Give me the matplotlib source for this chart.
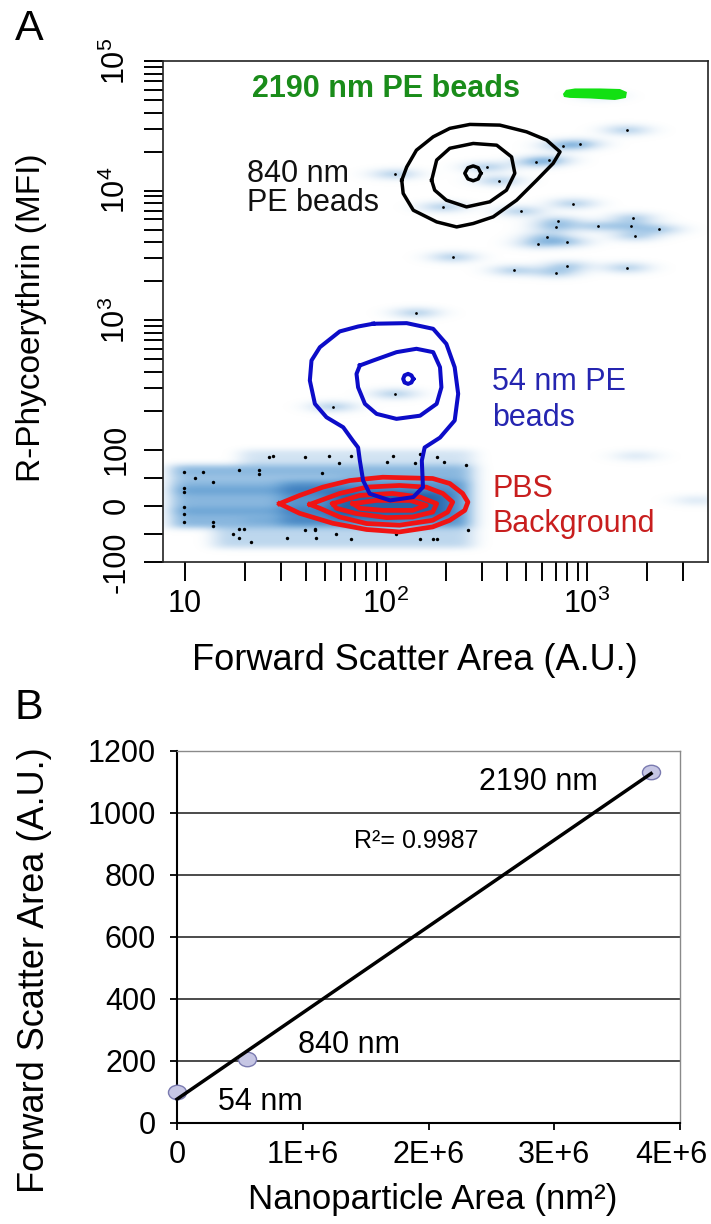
import numpy as np
import matplotlib.pyplot as plt
from matplotlib.colors import LinearSegmentedColormap
from matplotlib.path import Path
from matplotlib.transforms import Affine2D, ScaledTranslation
from matplotlib.ticker import NullFormatter

plt.rcParams['font.family'] = ['Liberation Sans', 'DejaVu Sans']
plt.rcParams['mathtext.fontset'] = 'custom'
plt.rcParams['mathtext.rm'] = 'Liberation Sans'
plt.rcParams['mathtext.it'] = 'Liberation Sans:italic'
plt.rcParams['mathtext.bf'] = 'Liberation Sans:bold'

# ---------------- panel A: FSC-A vs PE ----------------
# contour outlines, (FSC, PE)
black_outer_x = [120, 127, 142, 172, 208, 262, 369, 501, 631, 735, 679, 562, 447, 342, 272, 225, 179, 137, 122]
black_outer_y = [12000, 15200, 20500, 26000, 30200, 32400, 32000, 28400, 24500, 19900, 16200, 12000,
                 8430, 6270, 5570, 5240, 5730, 7050, 9510]
black_mid_x = [169, 179, 208, 272, 356, 422, 438, 398, 329, 252, 200, 175]
black_mid_y = [12000, 17200, 21200, 23100, 22400, 18200, 13600, 10070, 8190, 7480, 8430, 10070]
black_in_x = [297, 288, 272, 256, 247, 256, 272, 288]
black_in_y = [13600, 15000, 15500, 15000, 13600, 12300, 11900, 12300]

blue_outer_x = [86.5, 127, 172, 200, 220, 229, 220, 186, 156, 151, 153, 137, 105, 83.2, 77.1, 74.3,
                72.8, 68.7, 61.4, 50.7, 44.4, 41.9, 42.7, 47.0, 59.0, 72.8]
blue_outer_y = [938, 948, 857, 656, 433, 270, 168, 124, 104, 80.5, 33.3, 15.6, 9.7, 21.6, 45.1, 80.5,
                104, 117, 149, 178, 226, 342, 488, 618, 818, 893]
blue_mid_x = [74.3, 86.5, 113, 142, 172, 186, 189, 179, 148, 113, 90.0, 78.7, 72.8, 71.5]
blue_mid_y = [447, 488, 566, 601, 566, 433, 303, 226, 183, 173, 189, 226, 303, 385]
blue_in_x = [137, 134, 129, 124, 122, 124, 129, 134]
blue_in_y = [352, 375, 385, 375, 352, 330, 322, 330]

red1_x = [29.6, 37.3, 48.6, 66.2, 96.6, 171, 208, 241, 256, 247, 208, 171, 117, 80.2, 54.5, 37.3]
red1_y = [3.9, 18.6, 33.3, 45.1, 51.0, 48.7, 39.8, 22.1, 6.7, -8.0, -25.7, -37.5, -46.4, -42.1, -31.0, -13.3]
red2_x = [41.9, 59.0, 80.2, 117, 159, 192, 215, 203, 171, 117, 80.2, 59.0, 47.0]
red2_y = [2.6, 22.1, 33.3, 36.3, 33.3, 22.1, 6.7, -11.0, -25.7, -34.5, -31.5, -19.8, -4.4]
red3_x = [54.5, 74.3, 108, 148, 179, 171, 136, 101, 71.5, 56.9]
red3_y = [3.9, 18.6, 22.1, 15.6, 3.9, -11.0, -19.8, -20.9, -13.8, -4.4]
red4_x = [68.6, 90.0, 132, 159, 136, 96.6, 74.3]
red4_y = [3.9, 9.7, 9.7, 0.9, -8.0, -8.0, -4.4]

green_x = [760, 787, 872, 1161, 1459, 1581, 1563, 1377, 1035, 822, 769]
green_y = [55700, 59800, 61400, 61400, 60800, 57600, 51900, 50000, 51400, 51900, 52800]

# single events (smeared horizontally in the density plot)
event_x = [1578, 923, 760, 649, 557, 317, 365, 855, 468, 719, 701, 1138, 1687, 1649, 2291, 1734, 631,
           573, 798, 435, 701, 798, 1578, 111, 193, 216, 142, 111, 54.7]
event_y = [29300, 22900, 22200, 17200, 16500, 15200, 11900, 7940, 6930, 5800, 5190, 5310, 6150, 5310,
           5020, 4470, 4390, 3900, 4010, 2420, 2330, 2620, 2540, 13400, 7480, 3070, 1140, 270, 215]
faint_x = [1161, 1754, 3520]
faint_y = [53700, 89, 9.7]

# dense PBS background band: (FSC from, FSC to, PE from, PE to, density)
band_x0 = [8.5, 19, 14, 30, 55, 8.5, 8.5, 8.5, 20]
band_x1 = [270, 270, 270, 250, 200, 70, 70, 60, 120]
band_y0 = [-40, 72, -75, -35, -20, 22, -14, 45, -30]
band_y1 = [72, 100, -40, 45, 25, 33, -3, 55, -22]
band_lev = [0.5, 0.22, 0.3, 0.2, 0.3, 0.12, 0.12, -0.08, 0.08]

# dots inside the background band
dot_x = [9.97, 11.2, 12.4, 13.8, 9.97, 9.97, 9.97, 9.97, 9.97, 13.8, 13.8, 18.7, 23.3, 23.3, 26.2, 27.4,
         39.8, 17.3, 18.6, 19.7, 18.7, 21.4, 32.3, 39.8, 44.7, 45.0, 52.3, 67.5, 58.6, 48.4, 101, 109,
         139, 148, 180, 194, 250, 44.4, 56.4, 67.5, 113, 148, 172, 179, 256]
dot_y = [61.1, 49.9, 61.1, 42.8, 31.5, 24.4, -2.1, -15.1, -28.7, -28.7, -36.3, 64.1, 64.1, 57.0, 87.6,
         89.4, 87.6, -51.0, -40.4, -40.4, -58.1, -64.1, -58.1, -43.4, -43.4, -58.1, 89.4, 89.4, 75.8,
         58.8, 77.5, 89.4, 75.8, 92.4, 87.6, 77.5, 72.9, -42.1, -51.0, -59.8, -51.0, -59.8, -59.8,
         -59.8, -43.4]

# ---------------- panel B ----------------
bead_labels = ['54 nm', '840 nm', '2190 nm']
bead_area = [2.29e3, 5.54e5, 3.77e6]   # nm^2
bead_fsc = [99, 206, 1131]

fig = plt.figure(figsize=(7.11, 12.24), dpi=100)

rect_a = [163 / 711, 1 - 562 / 1224, 545 / 711, 501 / 1224]
ax_bg = fig.add_axes(rect_a, zorder=0)
ax1 = fig.add_axes(rect_a, zorder=1)
ax1.patch.set_alpha(0)
ax1.set_xscale('log')
ax1.set_yscale('symlog', linthresh=100, linscale=0.39)
ax1.set_xlim(7.8, 4000)
ax1.set_ylim(-100, 1e5)

# density image built from the band boxes and the events, in axes fraction
to_frac = ax1.transData + ax1.transAxes.inverted()
W, H = 545, 501
gx = (np.arange(W) + 0.5) / W
gy = (np.arange(H) + 0.5) / H
dens = np.zeros((H, W))
for x0, x1, y0, y1, lev in zip(band_x0, band_x1, band_y0, band_y1, band_lev):
    (fx0, fy0), (fx1, fy1) = to_frac.transform([(x0, y0), (x1, y1)])
    dens += lev * np.outer((gy >= fy0) & (gy <= fy1), (gx >= fx0) & (gx <= fx1))


def kernel(sig):
    t = np.arange(-int(3 * sig), int(3 * sig) + 1)
    k = np.exp(-0.5 * (t / sig) ** 2)
    return k / k.sum()


kx, ky = kernel(9), kernel(3)
dens = np.apply_along_axis(lambda r: np.convolve(r, kx, mode='same'), 1, dens)
dens = np.apply_along_axis(lambda c: np.convolve(c, ky, mode='same'), 0, dens)

for pts, w in ((to_frac.transform(np.column_stack([event_x, event_y])), 0.28),
               (to_frac.transform(np.column_stack([faint_x, faint_y])), 0.14)):
    for fx, fy in pts:
        dens += w * np.exp(-0.5 * ((gx[None, :] - fx) / (17 / W)) ** 2
                           - 0.5 * ((gy[:, None] - fy) / (4 / H)) ** 2)

cmap = LinearSegmentedColormap.from_list(
    'flow', ['#ffffff', '#d6e6f4', '#a4c8e7', '#6ea6d6', '#3f80c0', '#2563a6'])
ax_bg.imshow(np.clip(dens, 0, 1), extent=(0, 1, 0, 1), origin='lower', aspect='auto',
             cmap=cmap, vmin=0, vmax=1, interpolation='bilinear')
ax_bg.set_xlim(0, 1)
ax_bg.set_ylim(0, 1)
ax_bg.axis('off')

ax1.scatter(event_x, event_y, s=4, color='black', lw=0, zorder=2)
ax1.scatter(dot_x, dot_y, s=6, color='black', lw=0, zorder=2)

ax1.fill(green_x, green_y, color='#12e012', lw=0, zorder=3)


def loop(ax, xs, ys, color, lw):
    ax.plot(list(xs) + [xs[0]], list(ys) + [ys[0]], color=color, lw=lw, zorder=4,
            solid_joinstyle='round')


for xs, ys in ((black_outer_x, black_outer_y), (black_mid_x, black_mid_y), (black_in_x, black_in_y)):
    loop(ax1, xs, ys, 'black', 2.5)
for xs, ys in ((red1_x, red1_y), (red2_x, red2_y), (red3_x, red3_y), (red4_x, red4_y)):
    loop(ax1, xs, ys, '#f01414', 3.4)
for xs, ys in ((blue_outer_x, blue_outer_y), (blue_mid_x, blue_mid_y), (blue_in_x, blue_in_y)):
    loop(ax1, xs, ys, '#0c0cc8', 2.9)

ax1.set_xticks([10, 100, 1000],
               labels=['10', r'$\mathregular{10^2}$', r'$\mathregular{10^3}$'], fontsize=22)
ax1.set_xticks([m * 10 ** e for e in (1, 2) for m in range(2, 10)] + [2000, 3000], minor=True)
ax1.set_yticks([-100, -50, 0, 50, 100, 1e3, 1e4, 1e5],
               labels=['-100', '', '0', '', '100', r'$\mathregular{10^3}$',
                       r'$\mathregular{10^4}$', r'$\mathregular{10^5}$'],
               fontsize=22, rotation=90, va='center')
ax1.set_yticks([m * 10 ** e for e in (2, 3, 4) for m in range(2, 10)], minor=True)
ax1.xaxis.set_minor_formatter(NullFormatter())
ax1.yaxis.set_minor_formatter(NullFormatter())
ax1.tick_params(which='both', length=13.5, width=1.4, direction='out')
ax1.tick_params(axis='x', pad=6)
ax1.tick_params(axis='y', pad=9)
for s in ax1.spines.values():
    s.set_linewidth(1.2)
    s.set_color('#222222')

tf = ax1.transAxes
ax1.text(0.163, 0.929, '2190 nm PE beads', transform=tf, fontsize=22, fontweight='bold',
         color='#1a8c1a', va='baseline')
ax1.text(0.154, 0.7585, '840 nm', transform=tf, fontsize=22, color='#111111', va='baseline')
ax1.text(0.154, 0.7006, 'PE beads', transform=tf, fontsize=22, color='#111111', va='baseline')
ax1.text(0.604, 0.3433, '54 nm PE', transform=tf, fontsize=22, color='#2525b0', va='baseline')
ax1.text(0.604, 0.2721, 'beads', transform=tf, fontsize=22, color='#2525b0', va='baseline')
ax1.text(0.604, 0.1303, 'PBS', transform=tf, fontsize=22, color='#c81e1e', va='baseline')
ax1.text(0.604, 0.0605, 'Background', transform=tf, fontsize=22, color='#c81e1e', va='baseline')

fig.text(415 / 711, 1 - 660 / 1224, 'Forward Scatter Area (A.U.)', fontsize=26,
         ha='center', va='center')
fig.text(32 / 711, 1 - 318 / 1224, 'R-Phycoerythrin (MFI)', fontsize=24, rotation=90,
         ha='center', va='center')
fig.text(29 / 711, 1 - 29 / 1224, 'A', fontsize=31, ha='center', va='center')

# ---------------- panel B ----------------
ax2 = fig.add_axes([177 / 711, 1 - 1123 / 1224, 503 / 711, 372 / 1224])
ax2.set_xlim(0, 4e6)
ax2.set_ylim(0, 1200)
ax2.set_xticks([0, 1e6, 2e6, 3e6, 4e6], labels=['0', '1E+6', '2E+6', '3E+6', '4E+6'], fontsize=22)
ax2.set_yticks([0, 200, 400, 600, 800, 1000, 1200], labels=['0', '200', '400', '600', '800', '1000', '1200'],
               fontsize=22)
ax2.yaxis.grid(True, color='#1a1a1a', lw=1.1)
ax2.set_axisbelow(True)
ax2.tick_params(length=5, width=1.3, direction='out')
ax2.tick_params(axis='y', pad=10)
ax2.tick_params(axis='x', pad=7)
ax2.spines['left'].set_linewidth(1.5)
ax2.spines['bottom'].set_linewidth(1.5)
for side in ('top', 'right'):
    ax2.spines[side].set_color('#8a8a8a')
    ax2.spines[side].set_linewidth(1.0)
# the last tick label sits against the right edge of the picture
last = ax2.get_xticklabels()[-1]
last.set_transform(last.get_transform() + ScaledTranslation(-0.09, 0, fig.dpi_scale_trans))

ellipse = Path.unit_circle().transformed(Affine2D().scale(1.25, 1.0))
ax2.plot(bead_area, bead_fsc, ls='none', marker=ellipse, ms=13, mfc='#c6c6e4', mec='#7a7ab0',
         mew=1.0, clip_on=False, zorder=3)
slope, icpt = np.polyfit(bead_area, bead_fsc, 1)
fit_x = np.array([0, max(bead_area)])
ax2.plot(fit_x, icpt + slope * fit_x, color='black', lw=2.5, zorder=4, clip_on=False)

ax2.text(0.329e6, 43, bead_labels[0], fontsize=22, va='baseline')
ax2.text(0.966e6, 226, bead_labels[1], fontsize=22, va='baseline')
ax2.text(2.40e6, 1075, bead_labels[2], fontsize=22, va='baseline')
ax2.text(1.407e6, 888, 'R²= 0.9987', fontsize=18, va='baseline')

fig.text(433 / 711, 1 - 1200 / 1224, 'Nanoparticle Area (nm²)', fontsize=25, ha='center', va='center')
fig.text(35 / 711, 1 - 970 / 1224, 'Forward Scatter Area (A.U.)', fontsize=26, rotation=90,
         ha='center', va='center')
fig.text(29 / 711, 1 - 708 / 1224, 'B', fontsize=31, ha='center', va='center')

fig.savefig('out.png', dpi=100)
